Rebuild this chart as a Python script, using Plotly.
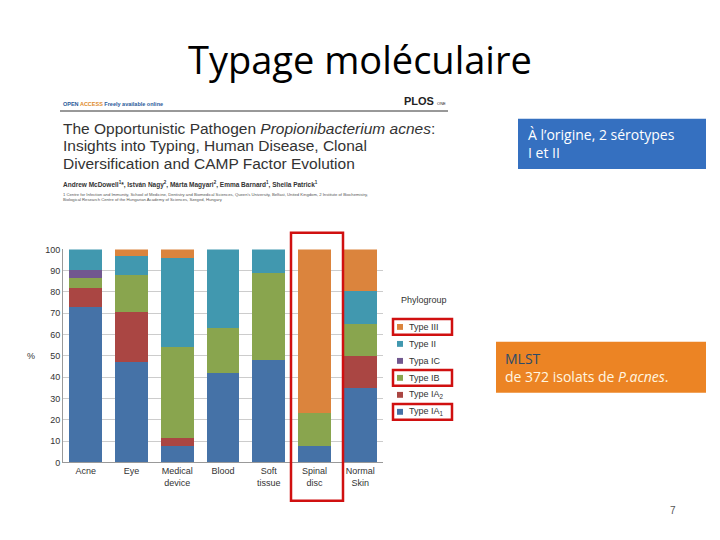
import plotly.graph_objects as go

categories = ["Acne", "Eye", "Medical<br>device", "Blood", "Soft<br>tissue", "Spinal<br>disc", "Normal<br>Skin"]
type_ia1 = [73, 47, 7.5, 42, 48, 7.5, 35]
type_ia2 = [9, 23.5, 4, 0, 0, 0, 15]
type_ib = [4.5, 17.5, 42.5, 21, 41, 15.5, 15]
type_ic = [4, 0, 0, 0, 0, 0, 0]
type_ii = [9.5, 9, 42, 37, 11, 0, 15.5]
type_iii = [0, 3, 4, 0, 0, 77, 19.5]
series_names = ["Type IA<sub>1</sub>", "Type IA<sub>2</sub>", "Type IB", "Typa IC", "Type II", "Type III"]
colors = ["#4572A7", "#AA4643", "#89A54E", "#71588F", "#4198AF", "#DB843D"]
y_ticks = [0, 10, 20, 30, 40, 50, 60, 70, 80, 90, 100]

W, H = 720, 540
def px(x): return x / W
def py(y): return 1 - y / H

fig = go.Figure()
for name, vals, c in zip(series_names, [type_ia1, type_ia2, type_ib, type_ic, type_ii, type_iii], colors):
    fig.add_trace(go.Bar(x=categories, y=vals, name=name, marker_color=c, marker_line_width=0))

fig.update_layout(
    width=W, height=H, margin=dict(l=0, r=0, t=0, b=0),
    paper_bgcolor="white", plot_bgcolor="white",
    barmode="stack", bargap=0.28, showlegend=False,
    font=dict(family="Liberation Sans", color="#333"),
    xaxis=dict(domain=[px(63), px(383)], tickfont=dict(size=9), showline=True, linecolor="#999",
               ticks="", anchor="y"),
    yaxis=dict(domain=[py(466), py(249)], range=[0, 100], tickvals=y_ticks, tickfont=dict(size=9),
               showgrid=True, gridcolor="#ccc", showline=True, linecolor="#999", zeroline=False),
)

ann = []
shapes = []
def A(text, x, y, size, color="#333", xanchor="center", family=None, align="left"):
    f = dict(size=size, color=color)
    if family:
        f["family"] = family
    ann.append(dict(text=text, x=px(x), y=py(y), xref="paper", yref="paper", xanchor=xanchor, yanchor="middle",
                    align=align, showarrow=False, font=f))

A("%", 31, 358, 9)
A("Typage moléculaire", 360, 55, 38, "black", family="Open Sans")
A("7", 673, 515, 10, "#555")
A("<b>OPEN <span style='color:#e08a2a'>ACCESS</span> Freely available online</b>", 61, 101, 5.5, "#2a5a9a", xanchor="left")
A("<b>PLOS</b> <span style='font-size:4px'>ONE</span>", 448, 98, 11, "#222", xanchor="right")
shapes.append(dict(type="line", xref="paper", yref="paper", x0=px(60), x1=px(448), y0=py(108), y1=py(108),
                   line=dict(color="#333", width=1)))
for i, t in enumerate(["The Opportunistic Pathogen <i>Propionibacterium acnes</i>:",
                       "Insights into Typing, Human Disease, Clonal",
                       "Diversification and CAMP Factor Evolution"]):
    A(t, 61, 126 + 17.5 * i, 15.5, xanchor="left")
A("<b>Andrew McDowell<sup>1</sup>*, István Nagy<sup>2</sup>, Márta Magyari<sup>2</sup>, Emma Barnard<sup>1</sup>, Sheila Patrick<sup>1</sup></b>",
  61, 183, 6.5, xanchor="left")
A("1 Centre for Infection and Immunity, School of Medicine, Dentistry and Biomedical Sciences, Queen's University, Belfast, United Kingdom, 2 Institute of Biochemistry,<br>Biological Research Centre of the Hungarian Academy of Sciences, Szeged, Hungary",
  61, 196, 4.2, "#555", xanchor="left")
A("Phylogroup", 399, 301, 9, xanchor="left")
order = list(range(6))[::-1]
for k, idx in enumerate(order):
    yc = 328 + 17.3 * k
    shapes.append(dict(type="rect", xref="paper", yref="paper", x0=px(397), x1=px(403), y0=py(yc + 3), y1=py(yc - 3),
                       fillcolor=colors[idx], line=dict(width=0)))
    A(series_names[idx], 407, yc, 9, xanchor="left")
    if idx in (5, 2, 0):
        shapes.append(dict(type="rect", xref="paper", yref="paper", x0=px(393), x1=px(452), y0=py(yc + 8),
                           y1=py(yc - 8), line=dict(color="#d01010", width=2.5)))
shapes.append(dict(type="rect", xref="paper", yref="paper", x0=px(291), x1=px(343), y0=py(505), y1=py(232),
                   line=dict(color="#d01010", width=2.5)))
shapes.append(dict(type="rect", xref="paper", yref="paper", x0=px(518), x1=px(706), y0=py(167), y1=py(116),
                   fillcolor="#3570c0", line=dict(width=0), layer="below"))
A("À l’origine, 2 sérotypes<br>I et II", 526, 141, 14, "white", xanchor="left", family="Open Sans")
shapes.append(dict(type="rect", xref="paper", yref="paper", x0=px(496), x1=px(706), y0=py(395), y1=py(343),
                   fillcolor="#ec8424", line=dict(width=0), layer="below"))
A("<span style='color:#2a4a6a'>MLST</span><br>de 372 isolats de <i>P.acnes</i>.", 503, 369, 14, "#fff6e0",
  xanchor="left", family="Open Sans")
fig.update_layout(annotations=ann, shapes=shapes)
fig.write_html("out.html", config={"displayModeBar": False}, post_script="document.body.style.margin='0';")
